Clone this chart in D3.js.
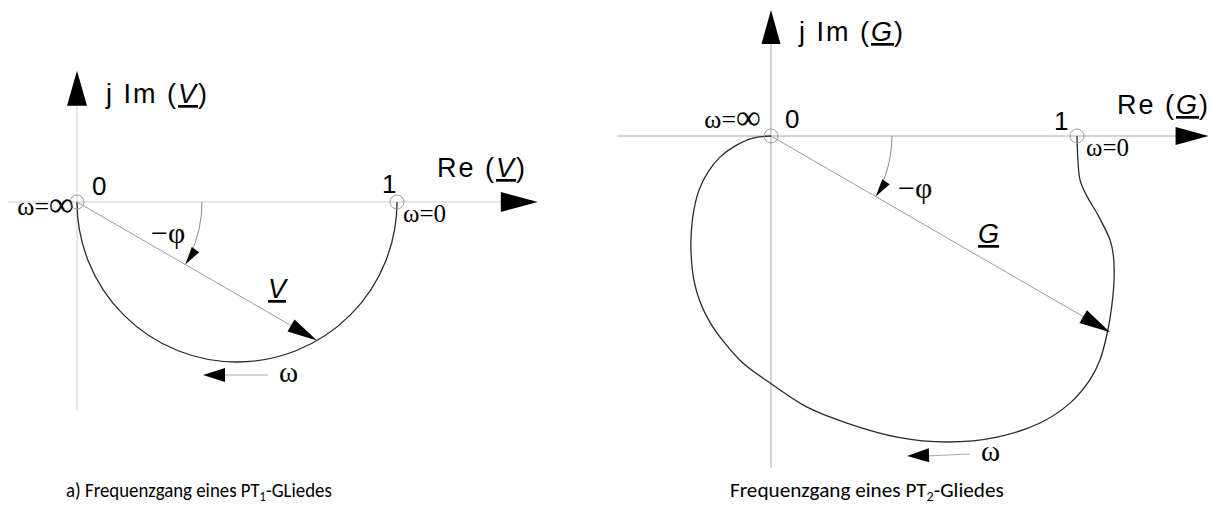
<!DOCTYPE html>
<html>
<head>
<meta charset="utf-8">
<script src="https://cdn.jsdelivr.net/npm/d3@7"></script>
<style>
  html, body { margin: 0; padding: 0; background: #fff; }
  svg { display: block; }
  .sans { font-family: "Liberation Sans", Arial, sans-serif; fill: #000; }
  .serif { font-family: "Liberation Serif", "Times New Roman", serif; fill: #000; }
  .cap { font-family: Carlito, Calibri, Lato, sans-serif; fill: #000; }
</style>
</head>
<body>
<svg id="chart" width="1210" height="510"></svg>
<script>
// ---- data (complex plane, Re / Im units) ----
// PT1: semicircle with diameter 0..1, phasor drawn at -phi = 30 deg
const pt1Circle = { centerRe: 0.5, radius: 0.5 };
const pt1Phasor = { re: 0.75, im: -0.433 };
const pt1Points = [ { re: 0, im: 0, label: "0", omega: "ω=", inf: "∞" }, { re: 1, im: 0, label: "1", omega: "ω=0" } ];

// PT2 locus, traced from omega = 0 (Re = 1) to omega = infinity (origin)
const pt2Re = [1.000, 1.003, 1.010, 1.029, 1.072, 1.108, 1.119, 1.121, 1.114, 1.101, 1.075, 1.042,
               0.977, 0.879, 0.739, 0.575, 0.412, 0.248, 0.118, -0.003, -0.092, -0.154,
               -0.200, -0.232, -0.252, -0.261, -0.261, -0.252, -0.235, -0.206, -0.167, -0.118, -0.059, 0.000];
const pt2Im = [0.000, -0.078, -0.144, -0.190, -0.265, -0.340, -0.392, -0.474, -0.552, -0.634, -0.732, -0.797,
               -0.873, -0.938, -0.984, -1.000, -0.984, -0.938, -0.886, -0.807, -0.742, -0.673,
               -0.608, -0.542, -0.471, -0.389, -0.324, -0.242, -0.176, -0.118, -0.069, -0.033, -0.007, 0.000];
const pt2Phasor = { re: 1.108, im: -0.641 };
const pt2Points = [ { re: 0, im: 0, label: "0", omega: "ω=", inf: "∞" }, { re: 1, im: 0, label: "1", omega: "ω=0" } ];

const captions = ["a) Frequenzgang eines PT", "Frequenzgang eines PT"];
const captionSub = ["1", "2"];
const captionTail = ["-GLiedes", "-Gliedes"];

// ---- layout ----
const svg = d3.select("#chart");
const PHASOR = "#9a9a9a", CURVE = "#2a2a2a", RING = "#9a9a9a";

const panels = [
  { x: d3.scaleLinear().domain([0, 1]).range([77, 397]),
    y: d3.scaleLinear().domain([0, 1]).range([202, -118]),
    reExt: [-0.216, 1.44], imExt: [-0.650, 0.41], axisColor: "#cfcfcf",
    arrowV: [35, 10], arrowH: [37, 10], arcR: 125 },
  { x: d3.scaleLinear().domain([0, 1]).range([771, 1077]),
    y: d3.scaleLinear().domain([0, 1]).range([136, -170]),
    reExt: [-0.503, 1.43], imExt: [-1.085, 0.412], axisColor: "#a8a8a8",
    arrowV: [34, 9.5], arrowH: [33, 9], arcR: 121 }
];

function arrowHead(g, tip, ang, len, half, fill) {
  // ang: direction the arrow points (radians, screen coords)
  const c = Math.cos(ang), s = Math.sin(ang);
  const bx = tip[0] - c * len, by = tip[1] - s * len;
  const pts = [tip, [bx - s * half, by + c * half], [bx + s * half, by - c * half]];
  g.append("path").attr("d", "M" + pts.map(p => p.join(",")).join("L") + "Z")
    .attr("fill", fill || "#000");
}

function drawAxes(g, p) {
  const { x, y } = p;
  g.append("line").attr("x1", x(p.reExt[0])).attr("x2", x(p.reExt[1]) - p.arrowH[0] + 2)
    .attr("y1", y(0)).attr("y2", y(0)).attr("stroke", p.axisColor).attr("stroke-width", 1);
  arrowHead(g, [x(p.reExt[1]), y(0)], 0, p.arrowH[0], p.arrowH[1]);
  g.append("line").attr("x1", x(0)).attr("x2", x(0))
    .attr("y1", y(p.imExt[0])).attr("y2", y(p.imExt[1]) + p.arrowV[0] - 2)
    .attr("stroke", p.axisColor).attr("stroke-width", 1);
  arrowHead(g, [x(0), y(p.imExt[1])], -Math.PI / 2, p.arrowV[0], p.arrowV[1]);
}

function drawPhasor(g, p, tipVal, headLen, headHalf) {
  const { x, y } = p;
  const o = [x(0), y(0)], t = [x(tipVal.re), y(tipVal.im)];
  const ang = Math.atan2(t[1] - o[1], t[0] - o[0]);
  g.append("line").attr("x1", o[0]).attr("y1", o[1])
    .attr("x2", t[0] - Math.cos(ang) * headLen * 0.8).attr("y2", t[1] - Math.sin(ang) * headLen * 0.8)
    .attr("stroke", PHASOR).attr("stroke-width", 1);
  arrowHead(g, t, ang, headLen, headHalf);
  // angle arc -phi from the real axis to the phasor
  const r = p.arcR;
  const path = d3.path();
  path.arc(o[0], o[1], r, 0, ang - 0.08, false);
  g.append("path").attr("d", path.toString()).attr("fill", "none")
    .attr("stroke", "#8a8a8a").attr("stroke-width", 1);
  const tipA = [o[0] + r * Math.cos(ang), o[1] + r * Math.sin(ang)];
  arrowHead(g, tipA, ang + Math.PI / 2 + 0.08, 18, 4.5);
}

function drawRings(g, p, pts) {
  g.selectAll("circle.ring").data(pts).join("circle").attr("class", "ring")
    .attr("cx", d => p.x(d.re)).attr("cy", d => p.y(d.im)).attr("r", 7)
    .attr("fill", "none").attr("stroke", RING).attr("stroke-width", 1);
}

function omegaArrow(g, tail, tip) {
  g.append("line").attr("x1", tail[0]).attr("y1", tail[1]).attr("x2", tip[0] + 18).attr("y2", tip[1])
    .attr("stroke", "#aaaaaa").attr("stroke-width", 1.2);
  arrowHead(g, tip, Math.atan2(tip[1] - tail[1], tip[0] - tail[0]), 22, 7);
}

function axisLabel(g, xPos, yPos, pre, sym, post) {
  const t = g.append("text").attr("class", "sans").attr("x", xPos).attr("y", yPos)
    .attr("font-size", 27).attr("letter-spacing", 2);
  t.append("tspan").text(pre);
  t.append("tspan").attr("font-style", "italic").attr("text-decoration", "underline").text(sym);
  t.append("tspan").text(post);
}

function omegaInf(g, d, xEnd, yBase) {
  const t = g.append("text").attr("class", "serif").attr("font-size", 26).attr("text-anchor", "end")
    .attr("x", xEnd).attr("y", yBase);
  t.append("tspan").text(d.omega);
  t.append("tspan").attr("font-size", 35).attr("dy", 1).text(d.inf);
}

// ---- left panel: PT1 ----
{
  const p = panels[0], g = svg.append("g");
  drawAxes(g, p);
  const c = d3.path();
  c.arc(p.x(pt1Circle.centerRe), p.y(0), p.x(pt1Circle.radius) - p.x(0), 0, Math.PI, false);
  g.append("path").attr("d", c.toString()).attr("fill", "none").attr("stroke", CURVE).attr("stroke-width", 1.3);
  drawPhasor(g, p, pt1Phasor, 30, 7);
  drawRings(g, p, pt1Points);

  axisLabel(g, 106, 103, "j Im (", "V", ")");
  axisLabel(g, 437, 177, "Re (", "V", ")");
  g.append("text").attr("class", "sans").attr("font-size", 26).attr("x", p.x(0) + 15).attr("y", p.y(0) - 7).text(pt1Points[0].label);
  g.append("text").attr("class", "sans").attr("font-size", 26).attr("x", p.x(1) - 15).attr("y", p.y(0) - 9).text(pt1Points[1].label);
  omegaInf(g, pt1Points[0], p.x(0) - 3, p.y(0) + 13);
  g.append("text").attr("class", "serif").attr("font-size", 25).attr("x", p.x(1) + 6).attr("y", p.y(0) + 20).text(pt1Points[1].omega);
  g.append("text").attr("class", "serif").attr("font-size", 30).attr("x", 151).attr("y", 243).text("−φ");
  g.append("text").attr("class", "sans").attr("font-size", 27).attr("font-style", "italic")
    .attr("text-decoration", "underline").attr("x", 268).attr("y", 298).text("V");
  omegaArrow(g, [268, 375], [203, 375]);
  g.append("text").attr("class", "serif").attr("font-size", 29).attr("x", 279).attr("y", 382).text("ω");
}

// ---- right panel: PT2 ----
{
  const p = panels[1], g = svg.append("g");
  drawAxes(g, p);
  const locus = pt2Re.map((re, i) => ({ re, im: pt2Im[i] }));
  const line = d3.line().x(d => p.x(d.re)).y(d => p.y(d.im)).curve(d3.curveCatmullRom.alpha(0.5));
  g.append("path").datum(locus).attr("d", line).attr("fill", "none").attr("stroke", CURVE).attr("stroke-width", 1.3);
  drawPhasor(g, p, pt2Phasor, 31, 7.5);
  drawRings(g, p, pt2Points);

  axisLabel(g, 799, 41, "j Im (", "G", ")");
  axisLabel(g, 1117, 114, "Re (", "G", ")");
  g.append("text").attr("class", "sans").attr("font-size", 26).attr("x", p.x(0) + 14).attr("y", p.y(0) - 8).text(pt2Points[0].label);
  g.append("text").attr("class", "sans").attr("font-size", 26).attr("x", p.x(1) - 23).attr("y", p.y(0) - 6).text(pt2Points[1].label);
  omegaInf(g, pt2Points[0], p.x(0) - 10, p.y(0) - 8);
  g.append("text").attr("class", "serif").attr("font-size", 25).attr("x", p.x(1) + 9).attr("y", p.y(0) + 20).text(pt2Points[1].omega);
  g.append("text").attr("class", "serif").attr("font-size", 30).attr("x", 898).attr("y", 198).text("−φ");
  g.append("text").attr("class", "sans").attr("font-size", 27).attr("font-style", "italic")
    .attr("text-decoration", "underline").attr("x", 978).attr("y", 243).text("G");
  omegaArrow(g, [970, 454], [907, 456]);
  g.append("text").attr("class", "serif").attr("font-size", 29).attr("x", 981).attr("y", 461).text("ω");
}

// ---- captions (fitted to the printed width) ----
[[66, 497, 266], [730, 497, 274]].forEach((pos, i) => {
  const g = svg.append("g");
  const t = g.append("text").attr("class", "cap").attr("x", 0).attr("y", 0).attr("font-size", 21);
  t.append("tspan").text(captions[i]);
  t.append("tspan").attr("font-size", 14).attr("dy", 4).text(captionSub[i]);
  t.append("tspan").attr("dy", -4).text(captionTail[i]);
  const w = t.node().getComputedTextLength();
  g.attr("transform", `translate(${pos[0]},${pos[1]}) scale(${pos[2] / w},1)`);
});
</script>
</body>
</html>
